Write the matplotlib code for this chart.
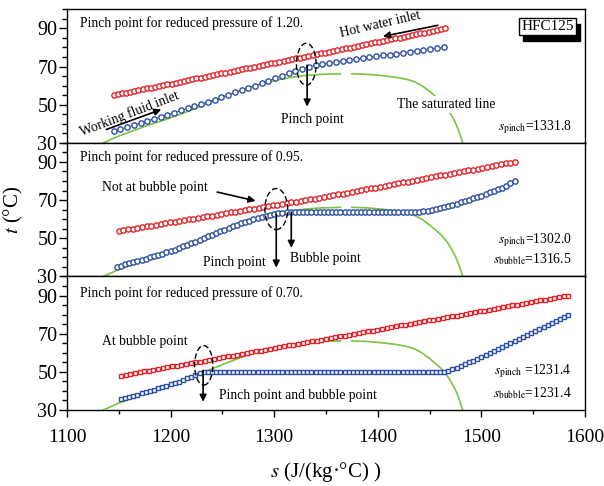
import matplotlib
matplotlib.use('Agg')
import matplotlib.pyplot as plt
from matplotlib.patches import Ellipse, Rectangle
from matplotlib.ticker import MultipleLocator

plt.rcParams['font.family'] = ['Liberation Serif', 'DejaVu Serif']
plt.rcParams['mathtext.fontset'] = 'stix'

# ---------------- data (s in J/(kg·°C), t in °C) ----------------
x_ticks = [1100, 1200, 1300, 1400, 1500, 1600]
t_ticks = [30, 50, 70, 90]

# saturated line (same in every panel)
sat_left_s = [1135, 1150, 1165, 1180, 1195, 1210, 1225, 1240, 1255, 1270, 1285, 1300, 1315, 1330, 1345, 1364]
sat_left_t = [30.0, 33.6, 36.6, 39.5, 42.2, 45.1, 48.3, 51.6, 54.9, 57.9, 60.5, 62.6, 64.2, 65.3, 65.9, 66.2]
sat_right_s = [1375, 1390, 1405, 1418, 1428, 1436, 1443, 1450, 1456, 1462, 1467, 1471, 1475, 1478, 1480.5, 1482]
sat_right_t = [66.2, 65.9, 65.2, 64.3, 63.3, 61.9, 59.8, 57.0, 54.2, 51.3, 48.0, 44.5, 40.5, 36.5, 32.5, 30.0]

# reduced pressure 1.20
hot_120_s = [1145, 1149, 1153, 1157, 1161, 1165, 1169, 1173, 1177, 1181,
             1185, 1189, 1193, 1197, 1201, 1205, 1209, 1213, 1217, 1221,
             1225, 1229, 1233, 1237, 1241, 1245, 1249, 1253, 1257, 1261,
             1265, 1269, 1273, 1277, 1281, 1285, 1289, 1293, 1297, 1301,
             1305, 1309, 1313, 1317, 1321, 1325, 1329, 1333, 1337, 1341,
             1345, 1349, 1353, 1357, 1361, 1365, 1369, 1373, 1377, 1381,
             1385, 1389, 1393, 1397, 1401, 1405, 1409, 1413, 1417, 1421,
             1425, 1429, 1433, 1437, 1441, 1445, 1449, 1453, 1457, 1461,
             1465]
hot_120_t = [55.0, 55.4, 55.9, 56.3, 56.8, 57.2, 57.6, 58.1, 58.5, 58.9,
             59.4, 59.8, 60.3, 60.7, 61.1, 61.6, 62.0, 62.4, 62.9, 63.3,
             63.8, 64.2, 64.6, 65.1, 65.5, 65.9, 66.4, 66.8, 67.3, 67.7,
             68.1, 68.6, 69.0, 69.4, 69.9, 70.3, 70.8, 71.2, 71.6, 72.1,
             72.5, 72.9, 73.4, 73.8, 74.3, 74.7, 75.1, 75.6, 76.0, 76.4,
             76.9, 77.3, 77.8, 78.2, 78.6, 79.1, 79.5, 79.9, 80.4, 80.8,
             81.3, 81.7, 82.1, 82.6, 83.0, 83.4, 83.9, 84.3, 84.8, 85.2,
             85.6, 86.1, 86.5, 86.9, 87.4, 87.8, 88.3, 88.7, 89.1, 89.6,
             90.0]
wf_120_s = [1145.0, 1151.5, 1158.0, 1164.5, 1171.0, 1177.5, 1184.0, 1190.5, 1197.0, 1203.5,
            1210.0, 1216.5, 1223.0, 1229.5, 1236.0, 1242.5, 1249.0, 1255.5, 1262.0, 1268.5,
            1275.0, 1281.5, 1288.0, 1294.5, 1301.0, 1307.5, 1314.0, 1320.5, 1327.0, 1333.5,
            1340.0, 1346.5, 1353.0, 1359.5, 1366.0, 1372.5, 1379.0, 1385.5, 1392.0, 1398.5,
            1405.0, 1411.5, 1418.0, 1424.5, 1431.0, 1437.5, 1444.0, 1450.5, 1457.0, 1463.5]
wf_120_t = [36.0, 37.1, 38.2, 39.3, 40.4, 41.5, 42.6, 43.7, 44.8, 45.9,
            47.0, 48.1, 49.2, 50.3, 51.5, 52.7, 53.9, 55.2, 56.4, 57.6,
            58.8, 60.0, 61.3, 62.5, 63.8, 65.1, 66.4, 67.6, 68.8, 69.8,
            70.6, 71.3, 71.9, 72.4, 72.9, 73.4, 73.9, 74.4, 74.9, 75.3,
            75.8, 76.3, 76.8, 77.2, 77.7, 78.2, 78.6, 79.1, 79.5, 80.0]

# reduced pressure 0.95
hot_095_s = [1150.0, 1154.5, 1159.0, 1163.5, 1168.0, 1172.5, 1177.0, 1181.5, 1186.0, 1190.5,
             1195.0, 1199.5, 1204.0, 1208.5, 1213.0, 1217.5, 1222.0, 1226.5, 1231.0, 1235.5,
             1240.0, 1244.5, 1249.0, 1253.5, 1258.0, 1262.5, 1267.0, 1271.5, 1276.0, 1280.5,
             1285.0, 1289.5, 1294.0, 1298.5, 1303.0, 1307.5, 1312.0, 1316.5, 1321.0, 1325.5,
             1330.0, 1334.5, 1339.0, 1343.5, 1348.0, 1352.5, 1357.0, 1361.5, 1366.0, 1370.5,
             1375.0, 1379.5, 1384.0, 1388.5, 1393.0, 1397.5, 1402.0, 1406.5, 1411.0, 1415.5,
             1420.0, 1424.5, 1429.0, 1433.5, 1438.0, 1442.5, 1447.0, 1451.5, 1456.0, 1460.5,
             1465.0, 1469.5, 1474.0, 1478.5, 1483.0, 1487.5, 1492.0, 1496.5, 1501.0, 1505.5,
             1510.0, 1514.5, 1519.0, 1523.5, 1528.0, 1532.5]
hot_095_t = [53.8, 54.2, 54.6, 55.0, 55.4, 55.8, 56.2, 56.6, 57.0, 57.4,
             57.8, 58.3, 58.7, 59.1, 59.5, 59.9, 60.3, 60.7, 61.1, 61.5,
             61.9, 62.3, 62.7, 63.1, 63.5, 63.9, 64.3, 64.7, 65.1, 65.5,
             66.0, 66.4, 66.8, 67.2, 67.6, 68.0, 68.4, 68.8, 69.2, 69.6,
             70.0, 70.4, 70.8, 71.2, 71.6, 72.1, 72.5, 73.0, 73.4, 73.9,
             74.3, 74.8, 75.2, 75.7, 76.1, 76.6, 77.0, 77.5, 77.9, 78.4,
             78.8, 79.3, 79.7, 80.2, 80.6, 81.1, 81.5, 82.0, 82.4, 82.9,
             83.3, 83.8, 84.2, 84.7, 85.1, 85.6, 86.0, 86.5, 86.9, 87.4,
             87.8, 88.3, 88.7, 89.2, 89.6, 90.0]
wf_095_s = [1148, 1152, 1156, 1160, 1164, 1168, 1172, 1176, 1180, 1184,
            1188, 1192, 1196, 1200, 1204, 1208, 1212, 1216, 1220, 1224,
            1228, 1232, 1236, 1240, 1244, 1248, 1252, 1256, 1260, 1264,
            1268, 1272, 1276, 1280, 1284, 1288, 1292, 1296, 1300, 1304,
            1308, 1312, 1316, 1320, 1324, 1328, 1332, 1336, 1340, 1344,
            1348, 1352, 1356, 1360, 1364, 1368, 1372, 1376, 1380, 1384,
            1388, 1392, 1396, 1400, 1404, 1408, 1412, 1416, 1420, 1424,
            1428, 1432, 1436, 1440, 1444, 1448, 1452, 1456, 1460, 1464,
            1468, 1472, 1476, 1480, 1484, 1488, 1492, 1496, 1500, 1504,
            1508, 1512, 1516, 1520, 1524, 1528, 1532]
wf_095_t = [35.0, 35.6, 36.3, 36.9, 37.5, 38.1, 38.7, 39.3, 40.0, 40.6,
            41.3, 41.9, 42.6, 43.4, 44.1, 44.9, 45.7, 46.6, 47.4, 48.3,
            49.2, 50.1, 51.0, 51.9, 52.8, 53.7, 54.5, 55.4, 56.2, 57.0,
            57.8, 58.5, 59.3, 60.0, 60.7, 61.3, 61.9, 62.4, 62.8, 63.2,
            63.4, 63.6, 63.7, 63.7, 63.7, 63.7, 63.7, 63.7, 63.7, 63.7,
            63.7, 63.7, 63.7, 63.7, 63.7, 63.7, 63.7, 63.7, 63.7, 63.7,
            63.7, 63.7, 63.7, 63.7, 63.7, 63.7, 63.7, 63.7, 63.7, 63.7,
            63.7, 63.7, 63.8, 64.0, 64.2, 64.5, 64.9, 65.3, 65.8, 66.3,
            66.9, 67.5, 68.1, 68.8, 69.5, 70.2, 70.9, 71.6, 72.4, 73.2,
            74.0, 74.8, 75.7, 76.6, 77.6, 78.7, 80.0]

# reduced pressure 0.70
hot_070_s = [1152.0, 1156.5, 1161.0, 1165.5, 1170.0, 1174.5, 1179.0, 1183.5, 1188.0, 1192.5,
             1197.0, 1201.5, 1206.0, 1210.5, 1215.0, 1219.5, 1224.0, 1228.5, 1233.0, 1237.5,
             1242.0, 1246.5, 1251.0, 1255.5, 1260.0, 1264.5, 1269.0, 1273.5, 1278.0, 1282.5,
             1287.0, 1291.5, 1296.0, 1300.5, 1305.0, 1309.5, 1314.0, 1318.5, 1323.0, 1327.5,
             1332.0, 1336.5, 1341.0, 1345.5, 1350.0, 1354.5, 1359.0, 1363.5, 1368.0, 1372.5,
             1377.0, 1381.5, 1386.0, 1390.5, 1395.0, 1399.5, 1404.0, 1408.5, 1413.0, 1417.5,
             1422.0, 1426.5, 1431.0, 1435.5, 1440.0, 1444.5, 1449.0, 1453.5, 1458.0, 1462.5,
             1467.0, 1471.5, 1476.0, 1480.5, 1485.0, 1489.5, 1494.0, 1498.5, 1503.0, 1507.5,
             1512.0, 1516.5, 1521.0, 1525.5, 1530.0, 1534.5, 1539.0, 1543.5, 1548.0, 1552.5,
             1557.0, 1561.5, 1566.0, 1570.5, 1575.0, 1579.5, 1584.0]
hot_070_t = [48.0, 48.4, 48.9, 49.3, 49.8, 50.2, 50.6, 51.1, 51.5, 51.9,
             52.4, 52.8, 53.3, 53.7, 54.1, 54.6, 55.0, 55.4, 55.9, 56.3,
             56.8, 57.2, 57.6, 58.1, 58.5, 58.9, 59.4, 59.8, 60.3, 60.7,
             61.1, 61.6, 62.0, 62.4, 62.9, 63.3, 63.8, 64.2, 64.6, 65.1,
             65.5, 65.9, 66.4, 66.8, 67.3, 67.7, 68.1, 68.6, 69.0, 69.4,
             69.9, 70.3, 70.8, 71.2, 71.6, 72.1, 72.5, 72.9, 73.4, 73.8,
             74.3, 74.7, 75.1, 75.6, 76.0, 76.4, 76.9, 77.3, 77.8, 78.2,
             78.6, 79.1, 79.5, 79.9, 80.4, 80.8, 81.3, 81.7, 82.1, 82.6,
             83.0, 83.4, 83.9, 84.3, 84.8, 85.2, 85.6, 86.1, 86.5, 86.9,
             87.4, 87.8, 88.3, 88.7, 89.1, 89.6, 90.0]
wf_070_s = [1152, 1156, 1160, 1164, 1168, 1172, 1176, 1180, 1184, 1188,
            1192, 1196, 1200, 1204, 1208, 1212, 1216, 1220, 1224, 1228,
            1232, 1236, 1240, 1244, 1248, 1252, 1256, 1260, 1264, 1268,
            1272, 1276, 1280, 1284, 1288, 1292, 1296, 1300, 1304, 1308,
            1312, 1316, 1320, 1324, 1328, 1332, 1336, 1340, 1344, 1348,
            1352, 1356, 1360, 1364, 1368, 1372, 1376, 1380, 1384, 1388,
            1392, 1396, 1400, 1404, 1408, 1412, 1416, 1420, 1424, 1428,
            1432, 1436, 1440, 1444, 1448, 1452, 1456, 1460, 1464, 1468,
            1472, 1476, 1480, 1484, 1488, 1492, 1496, 1500, 1504, 1508,
            1512, 1516, 1520, 1524, 1528, 1532, 1536, 1540, 1544, 1548,
            1552, 1556, 1560, 1564, 1568, 1572, 1576, 1580, 1584]
wf_070_t = [35.6, 36.3, 36.9, 37.5, 38.1, 38.7, 39.3, 40.0, 40.6, 41.3,
            41.9, 42.6, 43.4, 44.1, 44.9, 45.7, 46.6, 47.4, 48.3, 49.2,
            50.0, 50.0, 50.0, 50.0, 50.0, 50.0, 50.0, 50.0, 50.0, 50.0,
            50.0, 50.0, 50.0, 50.0, 50.0, 50.0, 50.0, 50.0, 50.0, 50.0,
            50.0, 50.0, 50.0, 50.0, 50.0, 50.0, 50.0, 50.0, 50.0, 50.0,
            50.0, 50.0, 50.0, 50.0, 50.0, 50.0, 50.0, 50.0, 50.0, 50.0,
            50.0, 50.0, 50.0, 50.0, 50.0, 50.0, 50.0, 50.0, 50.0, 50.0,
            50.0, 50.0, 50.0, 50.0, 50.0, 50.0, 50.0, 50.0, 50.0, 50.5,
            51.4, 52.2, 53.1, 54.0, 54.9, 55.9, 56.8, 57.8, 58.8, 59.8,
            60.9, 61.9, 63.0, 64.0, 65.1, 66.1, 67.2, 68.2, 69.3, 70.3,
            71.4, 72.4, 73.5, 74.6, 75.7, 76.8, 77.8, 78.9, 80.0]

panel_titles = ['Pinch point for reduced pressure of 1.20.',
                'Pinch point for reduced pressure of 0.95.',
                'Pinch point for reduced pressure of 0.70.']

# ---------------- figure ----------------
RED = '#e3232a'
BLUE = '#2c4fa3'
GREEN = '#7dc242'
FS = 9.8

fig = plt.figure(figsize=(6.04, 4.86), dpi=100)
gs = fig.add_gridspec(3, 1, left=0.1109, right=0.9685, top=0.9809, bottom=0.1564, hspace=0)
axes = [fig.add_subplot(gs[i]) for i in range(3)]

series = [(hot_120_s, hot_120_t, wf_120_s, wf_120_t, 'o'),
          (hot_095_s, hot_095_t, wf_095_s, wf_095_t, 'o'),
          (hot_070_s, hot_070_t, wf_070_s, wf_070_t, 's')]

for i, ax in enumerate(axes):
    hs, ht, ws, wt, mk = series[i]
    ax.plot(sat_left_s, sat_left_t, color=GREEN, lw=1.2, zorder=2)
    ax.plot(sat_right_s, sat_right_t, color=GREEN, lw=1.2, zorder=2)
    ms = 3.8 if mk == 'o' else 3.3
    ax.plot(ws, wt, color=BLUE, lw=0.6, marker=mk, ms=ms, mfc='white', mec=BLUE, mew=1.0, zorder=3)
    ax.plot(hs, ht, color=RED, lw=0.6, marker=mk, ms=ms, mfc='white', mec=RED, mew=1.0, zorder=3)

    ax.set_xlim(1100, 1600)
    ax.set_ylim(30, 100)
    ax.set_yticks(t_ticks)
    ax.yaxis.set_minor_locator(MultipleLocator(5))
    ax.set_xticks(x_ticks)
    ax.xaxis.set_minor_locator(MultipleLocator(50))
    ax.tick_params(axis='y', which='major', direction='out', length=6, width=1.0,
                   labelsize=14.5, pad=1, right=False)
    ax.tick_params(axis='y', which='minor', direction='out', length=3.5, width=1.0, right=False)
    if i == 2:
        ax.tick_params(axis='x', which='major', direction='out', length=5, width=1.0,
                       labelsize=14, pad=9, top=False)
        ax.tick_params(axis='x', which='minor', direction='out', length=3, width=1.0, top=False)
    else:
        ax.tick_params(axis='x', which='both', bottom=False, top=False, labelbottom=False)
    for sp in ax.spines.values():
        sp.set_linewidth(1.0)
    ax.text(1113, 92.5 if i < 2 else 91.5, panel_titles[i], fontsize=FS, ha='left', va='center')

arrow_kw = dict(arrowstyle='-|>', color='black', lw=1.2, mutation_scale=10, shrinkA=0, shrinkB=0)

# ---- top panel (1.20) ----
ax = axes[0]
ax.text(1402, 92.3, 'Hot water inlet', fontsize=FS, rotation=13, ha='center', va='center')
ax.annotate('', xy=(1405, 85.8), xytext=(1458, 91.6), arrowprops=arrow_kw)
ax.text(1160, 45.5, 'Working fluid inlet', fontsize=FS, rotation=21, ha='center', va='center')
ax.annotate('', xy=(1191, 47.5), xytext=(1138, 37), arrowprops=arrow_kw)
ax.add_patch(Ellipse((1331, 71.2), 19, 22, fill=False, ls=(0, (4, 2)), lw=1.0, ec='black', zorder=4))
ax.annotate('', xy=(1331.8, 49.0), xytext=(1331.8, 70.7), arrowprops=arrow_kw)
ax.text(1336.5, 42.4, 'Pinch point', fontsize=FS, ha='center', va='center')
ax.text(1466, 50, 'The saturated line', fontsize=FS, ha='center', va='center',
        bbox=dict(facecolor='white', edgecolor='none', pad=1.5), zorder=5)
ax.text(1587, 38.4, r'$s_{\mathrm{pinch}}$=1331.8', fontsize=FS, ha='right', va='center')
ax.add_patch(Rectangle((0.881, 0.762), 0.11, 0.1255, transform=ax.transAxes,
                       facecolor='black', edgecolor='black', zorder=6))
ax.add_patch(Rectangle((0.873, 0.807), 0.11, 0.1255, transform=ax.transAxes,
                       facecolor='white', edgecolor='black', lw=1.0, zorder=7))
ax.text(0.928, 0.870, 'HFC125', transform=ax.transAxes, fontsize=11, ha='center', va='center', zorder=8)

# ---- middle panel (0.95) ----
ax = axes[1]
ax.text(1185, 76.8, 'Not at bubble point', fontsize=FS, ha='center', va='center')
ax.annotate('', xy=(1282, 69.6), xytext=(1245, 74.2), arrowprops=arrow_kw)
ax.add_patch(Ellipse((1302, 65.3), 22, 21.5, fill=False, ls=(0, (4, 2)), lw=1.0, ec='black', zorder=4))
ax.annotate('', xy=(1302, 34.6), xytext=(1302, 62.6), arrowprops=arrow_kw)
ax.annotate('', xy=(1316.5, 45.0), xytext=(1316.5, 63.7), arrowprops=arrow_kw)
ax.text(1262, 37.5, 'Pinch point', fontsize=FS, ha='center', va='center')
ax.text(1349, 39.3, 'Bubble point', fontsize=FS, ha='center', va='center')
ax.text(1587, 48.9, r'$s_{\mathrm{pinch}}$=1302.0', fontsize=FS, ha='right', va='center')
ax.text(1587, 39.3, r'$s_{\mathrm{bubble}}$=1316.5', fontsize=FS, ha='right', va='center')
ax.set_ylabel(r'$t$ (°C)', fontsize=15, labelpad=9)

# ---- bottom panel (0.70) ----
ax = axes[2]
ax.text(1175, 66, 'At bubble point', fontsize=FS, ha='center', va='center')
ax.add_patch(Ellipse((1232, 53.4), 17.6, 20.7, fill=False, ls=(0, (4, 2)), lw=1.0, ec='black', zorder=4))
ax.annotate('', xy=(1231.4, 34.3), xytext=(1231.4, 50.7), arrowprops=arrow_kw)
ax.text(1246.7, 37.8, 'Pinch point and bubble point', fontsize=FS, ha='left', va='center')
ax.text(1587, 50.6, r'$s_{\mathrm{pinch}}$ =1231.4', fontsize=FS, ha='right', va='center')
ax.text(1587, 38.7, r'$s_{\mathrm{bubble}}$=1231.4', fontsize=FS, ha='right', va='center')
ax.set_xlabel(r'$s$ (J/(kg·°C) )', fontsize=15, labelpad=10)

fig.savefig('out.png', dpi=100)
